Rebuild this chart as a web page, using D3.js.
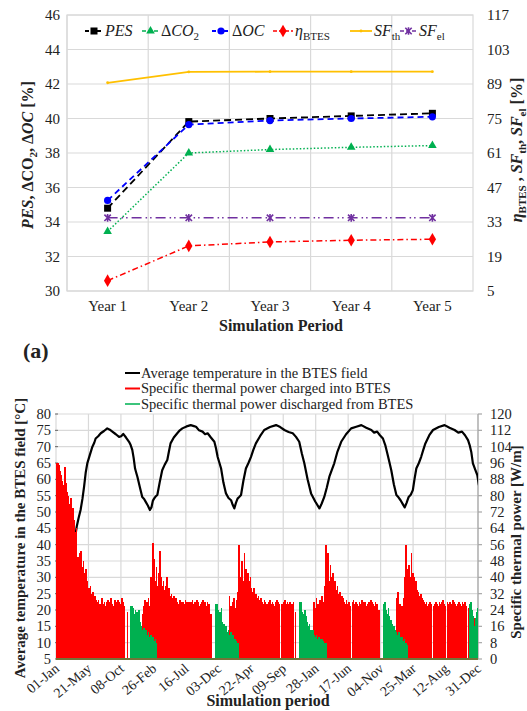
<!DOCTYPE html>
<html lang="en">
<head>
<meta charset="UTF-8">
<script src="https://cdn.jsdelivr.net/npm/d3@7"></script>
<title>BTES simulation</title>
<style>
  body { margin: 0; background: #fff; }
</style>
</head>
<body>
<script>
// ---------- panel (a): yearly indicators ----------
var years = ["Year 1", "Year 2", "Year 3", "Year 4", "Year 5"];
var pes   = [34.8, 39.82, 40.0, 40.15, 40.3];   // left axis [%]
var dCO2  = [33.45, 38.0, 38.2, 38.33, 38.43];   // left axis [%]
var dOC   = [35.25, 39.65, 39.88, 40.0, 40.1];   // left axis [%]
var etaBTES = [9.2, 23.3, 24.9, 25.6, 26.0];     // right axis [%]
var sfTh  = [89.5, 93.9, 94.0, 94.0, 94.0];      // right axis [%]
var sfEl  = [34.7, 34.7, 34.7, 34.7, 34.7];      // right axis [%]
var leftTicks  = [30, 32, 34, 36, 38, 40, 42, 44, 46];
var rightTicks = [5, 19, 33, 47, 61, 75, 89, 103, 117];

// ---------- panel (b): 5-year BTES simulation ----------
var dateLabels = ["01-Jan","21-May","08-Oct","26-Feb","16-Jul","03-Dec","22-Apr",
                  "09-Sep","28-Jan","17-Jun","04-Nov","25-Mar","12-Aug","31-Dec"];
var dateTickDays = [0,140,280,420,560,700,840,980,1120,1260,1400,1540,1680,1820];
var tempTicks  = [5,10,15,20,25,30,35,40,45,50,55,60,65,70,75,80];
var powerTicks = [0,8,16,24,32,40,48,56,64,72,80,88,96,104,112,120];

// average temperature in the BTES field [°C], [day, value]
var avgTemp = [[0,10],[10,12],[20,14],[35,20],[50,27],[65,34],[80,41],[89,45.4],[97,48],[106,50.6],
  [114,54],[121,57.7],[128,62],[135,64.9],[146,67.5],[157,70],[165,71.2],[171,72.5],[182,73.2],[193,74.1],
  [207,74.8],[221,75.6],[232,75.2],[243,74.6],[258,73.8],[272,73],[281,73.2],[290,73.9],[302,72.8],[315,71.5],
  [322,70.5],[329,69],[335,66.5],[341,63.3],[346,62],[351,60.8],[362,57.5],[372,54.6],[380,54],[387,53.1],
  [396,52],[405,50.6],[412,51.5],[418,53.5],[423,54.1],[430,54.8],[437,55.2],[447,59],[458,62.8],[469,64.5],
  [480,65.9],[487,68.5],[494,71],[508,72.8],[523,74.1],[534,75],[545,75.6],[563,76.2],[581,76.6],[595,76.3],
  [604,76.1],[617,75],[632,74.6],[643,73.8],[654,74.1],[668,72.8],[683,71.5],[690,69.5],[697,66.9],[705,65],
  [712,63.3],[722,59],[733,55.7],[744,54.3],[755,53.6],[762,52.2],[769,51.1],[776,52.8],[783,54.1],[790,54.6],
  [798,55.2],[808,59.5],[819,63.3],[830,65],[841,66.9],[851,69],[862,71],[880,73.2],[898,75.1],[923,76],
  [949,76.6],[967,76],[985,75.1],[1003,74.5],[1021,74.1],[1035,73],[1049,71.5],[1060,68],[1071,64.9],[1085,60],
  [1100,55.7],[1118,53.2],[1136,51.1],[1146,52.6],[1157,54.6],[1168,57.5],[1179,60.8],[1190,63],[1200,64.9],[1214,68.5],
  [1230,71.5],[1251,73.8],[1273,75.6],[1295,76.1],[1317,76.6],[1338,75.8],[1360,75.1],[1372,74.3],[1385,74.6],[1397,73.5],
  [1410,72.5],[1420,70.5],[1429,67.9],[1437,65.5],[1446,62.8],[1457,58.5],[1468,55.2],[1477,54.5],[1486,53.6],[1495,52.5],
  [1504,51.4],[1512,52.8],[1521,54.6],[1530,55.3],[1539,56.7],[1546,60],[1554,63.3],[1565,65],[1575,66.9],[1584,69],
  [1593,71],[1610,73.5],[1626,75.1],[1651,76],[1676,76.6],[1697,75.8],[1719,75.1],[1735,74.3],[1751,74.6],[1764,73.5],
  [1777,72],[1784,70.5],[1791,68.4],[1798,64.9],[1808,63],[1817,61.3],[1824,58.2]];

// specific thermal power [W/m], one value per 5-day bin, each season starts at the given day
var binDays = 5;
var chargeStart = [0, 370, 745, 1110, 1465];
var charge1 = [96,96,95,92,90,87,85,94,86,82,80,76,79,70,74,68,62,64,50,47,52,53,45,48,42,44,38,0,35,36,32,33,30,31,29,
  28,29,27,0,30,27,28,26,28,29,27,28,30,27,26,29,28,0,29,28,27,30,28,26,0,0,23];
var charge2 = [22,26,29,24,28,30,26,40,33,57,49,38,45,36,42,53,40,36,38,34,36,40,33,35,31,32,30,31,29,30,
  28,27,29,28,0,28,27,29,28,27,28,26,28,29,27,28,0,29,28,26,27,28,29,27,28,26,28,27,0,22];
var charge3 = [31,26,24,28,30,25,29,33,56,40,36,48,38,52,44,37,42,38,40,35,33,35,31,32,30,31,29,30,
  28,27,29,28,27,0,28,29,27,28,27,26,28,29,28,27,0,27,26,28,29,27,28,27,28,26,27,28,0,23];
var charge4 = [28,25,30,27,24,29,26,31,28,36,56,42,52,38,46,40,42,37,38,34,36,32,33,30,31,30,
  28,27,29,27,28,26,0,28,29,27,28,27,26,28,27,29,28,0,28,26,27,28,27,29,28,27,26,28,27,0,24];
var charge5 = [30,33,25,27,22,26,30,40,56,44,38,46,40,52,42,40,36,38,34,33,31,32,30,29,28,
  27,28,26,27,28,27,0,26,27,28,27,26,28,27,28,29,27,26,0,28,27,28,26,27,29,28,27,26,27,28,27,26,28,27,28,26,
  0,25,0,0,0,0,20];
var dischargeStart = [320, 685, 1050, 1410, 1780];
var discharge1 = [26,26,25,22,24,23,20,24,18,16,14,15,13,14,12,13,11,12,10,11,9,10,8];
var discharge2 = [27,27,24,22,23,25,18,17,15,16,13,14,12,13,11,12,10,10,9,8];
var discharge3 = [28,28,23,22,24,21,18,16,17,14,13,14,12,11,12,10,11,10,9,10,9,8,8];
var discharge4 = [27,28,24,22,25,21,19,17,15,16,14,13,12,13,11,10,11,9,10,8,7];
var discharge5 = [27,28,24,21,16,20,23,25,24];

var W = 527, H = 711;
var FONT = "'Liberation Serif', 'Times New Roman', 'DejaVu Serif', serif";
var svg = d3.select("body").append("svg").attr("width", W).attr("height", H)
  .attr("font-family", FONT).style("font-family", FONT).attr("fill", "#222");
var grid = "#d9d9d9";

// ================= panel (a) =================
var ax0 = 67, ax1 = 473, ay0 = 15, ay1 = 291;
var xA = d3.scaleBand().domain(years).range([ax0, ax1]);
var yL = d3.scaleLinear().domain([30, 46]).range([ay1, ay0]);
var yR = d3.scaleLinear().domain([5, 117]).range([ay1, ay0]);

var gA = svg.append("g");
gA.selectAll(".hg").data(leftTicks).enter().append("line")
  .attr("x1", ax0).attr("x2", ax1).attr("y1", yL).attr("y2", yL)
  .attr("stroke", grid).attr("stroke-width", 1.2);
gA.selectAll(".vg").data(years).enter().append("line")
  .attr("x1", function(d){ return xA(d); }).attr("x2", function(d){ return xA(d); })
  .attr("y1", ay0).attr("y2", ay1).attr("stroke", grid).attr("stroke-width", 1.2);
gA.append("rect").attr("x", ax0).attr("y", ay0).attr("width", ax1 - ax0).attr("height", ay1 - ay0)
  .attr("fill", "none").attr("stroke", grid).attr("stroke-width", 1.2);

gA.selectAll(".lt").data(leftTicks).enter().append("text")
  .attr("x", 60).attr("y", function(d){ return yL(d) + 5; })
  .attr("text-anchor", "end").attr("font-size", 15).text(function(d){ return d; });
gA.selectAll(".rt").data(rightTicks).enter().append("text")
  .attr("x", 487).attr("y", function(d){ return yR(d) + 5; })
  .attr("font-size", 15).text(function(d){ return d; });
gA.selectAll(".xt").data(years).enter().append("text")
  .attr("x", function(d){ return xA(d) + xA.bandwidth() / 2; }).attr("y", 311)
  .attr("text-anchor", "middle").attr("font-size", 15).text(function(d){ return d; });
gA.append("text").attr("x", 281).attr("y", 331).attr("text-anchor", "middle")
  .attr("font-size", 16).attr("font-weight", "bold").text("Simulation Period");

// axis titles
var lt = gA.append("text").attr("transform", "translate(33,155) rotate(-90)")
  .attr("text-anchor", "middle").attr("font-size", 16).attr("font-weight", "bold");
lt.append("tspan").attr("font-style", "italic").text("PES");
lt.append("tspan").text(", ΔCO");
lt.append("tspan").attr("font-size", 11).attr("dy", 4).text("2");
lt.append("tspan").attr("dy", -4).text(", Δ");
lt.append("tspan").attr("font-style", "italic").text("OC");
lt.append("tspan").text(" [%]");

var rt = gA.append("text").attr("transform", "translate(522,150) rotate(-90)")
  .attr("text-anchor", "middle").attr("font-size", 16).attr("font-weight", "bold");
rt.append("tspan").attr("font-style", "italic").text("η");
rt.append("tspan").attr("font-size", 11).attr("dy", 4).text("BTES");
rt.append("tspan").attr("dy", -4).text(" , ");
rt.append("tspan").attr("font-style", "italic").text("SF");
rt.append("tspan").attr("font-size", 11).attr("dy", 4).text("th");
rt.append("tspan").attr("dy", -4).text(", ");
rt.append("tspan").attr("font-style", "italic").text("SF");
rt.append("tspan").attr("font-size", 11).attr("dy", 4).text("el");
rt.append("tspan").attr("dy", -4).text(" [%]");

function starPath(s) {
  return "M" + (-s) + "," + (-s) + "L" + s + "," + s + "M" + (-s) + "," + s + "L" + s + "," + (-s) +
         "M0," + (-s * 1.2) + "L0," + (s * 1.2);
}
var series = [
  { vals: pes,     y: yL, color: "#000000", dash: "7,4",        w: 1.8, mark: "square" },
  { vals: dCO2,    y: yL, color: "#00b050", dash: "1.5,2",      w: 1.5, mark: "triangle" },
  { vals: dOC,     y: yL, color: "#0000ff", dash: "6,4",        w: 1.8, mark: "circle" },
  { vals: etaBTES, y: yR, color: "#ff0000", dash: "6,3,1.5,3",  w: 1.5, mark: "diamond" },
  { vals: sfTh,    y: yR, color: "#ffc000", dash: null,         w: 1.8, mark: "dot" },
  { vals: sfEl,    y: yR, color: "#7030a0", dash: "10,4,1.5,3,1.5,4", w: 1.5, mark: "star" }
];
function drawMarker(g, m, color, x, y) {
  if (m === "square") g.append("rect").attr("x", x - 3.5).attr("y", y - 3.5).attr("width", 7).attr("height", 7).attr("fill", color);
  else if (m === "triangle") g.append("path").attr("d", d3.symbol(d3.symbolTriangle, 32)()).attr("transform", "translate(" + x + "," + y + ")").attr("fill", color);
  else if (m === "circle") g.append("circle").attr("cx", x).attr("cy", y).attr("r", 3.6).attr("fill", color);
  else if (m === "diamond") g.append("path").attr("d", d3.symbol(d3.symbolDiamond, 46)()).attr("transform", "translate(" + x + "," + y + ")").attr("fill", color);
  else if (m === "dot") g.append("circle").attr("cx", x).attr("cy", y).attr("r", 1.4).attr("fill", color);
  else if (m === "star") g.append("path").attr("d", starPath(3.2)).attr("transform", "translate(" + x + "," + y + ")").attr("stroke", color).attr("stroke-width", 1.6).attr("fill", "none");
}
series.forEach(function(s) {
  var line = d3.line().x(function(d, i){ return xA(years[i]) + xA.bandwidth() / 2; }).y(function(d){ return s.y(d); });
  gA.append("path").datum(s.vals).attr("d", line).attr("fill", "none")
    .attr("stroke", s.color).attr("stroke-width", s.w).attr("stroke-dasharray", s.dash);
  s.vals.forEach(function(v, i) { drawMarker(gA, s.mark, s.color, xA(years[i]) + xA.bandwidth() / 2, s.y(v)); });
});

// legend (a)
var legA = [
  { s: 0, x: 85,  lw: 18, parts: [["PES", "i"]] },
  { s: 1, x: 142, lw: 17, parts: [["Δ", ""], ["CO", "i"], ["2", "sub"]] },
  { s: 2, x: 212, lw: 18, parts: [["Δ", ""], ["OC", "i"]] },
  { s: 3, x: 273, lw: 20, parts: [["η", "i"], ["BTES", "sub"]] },
  { s: 4, x: 350, lw: 22, parts: [["SF", "i"], ["th", "sub"]] },
  { s: 5, x: 400, lw: 17, parts: [["SF", "i"], ["el", "sub"]] }
];
legA.forEach(function(l) {
  var s = series[l.s], ly = 31;
  gA.append("line").attr("x1", l.x).attr("x2", l.x + l.lw).attr("y1", ly).attr("y2", ly)
    .attr("stroke", s.color).attr("stroke-width", s.w).attr("stroke-dasharray", s.dash ? "4,2" : null);
  drawMarker(gA, s.mark, s.color, l.x + l.lw / 2, ly);
  var t = gA.append("text").attr("x", l.x + l.lw + 2).attr("y", ly + 5).attr("font-size", 16);
  l.parts.forEach(function(p) {
    var ts = t.append("tspan").text(p[0]);
    if (p[1] === "i") ts.attr("font-style", "italic");
    if (p[1] === "sub") ts.attr("font-size", 11).attr("dy", 4);
  });
});

// (a) label
svg.append("text").attr("x", 23).attr("y", 358).attr("font-size", 22).attr("font-weight", "bold").text("(a)");

// ================= panel (b) =================
var bx0 = 56, bx1 = 478, by0 = 414, by1 = 659;
var xB = d3.scaleLinear().domain([0, 1820]).range([bx0, bx1]);
var yT = d3.scaleLinear().domain([5, 80]).range([by1, by0]);
var yP = d3.scaleLinear().domain([0, 120]).range([by1, by0]);

svg.append("clipPath").attr("id", "clipB").append("rect")
  .attr("x", bx0).attr("y", by0 - 3).attr("width", bx1 - bx0).attr("height", by1 - by0 + 3);

var gB = svg.append("g");
gB.selectAll(".hg").data(tempTicks).enter().append("line")
  .attr("x1", bx0).attr("x2", bx1).attr("y1", yT).attr("y2", yT)
  .attr("stroke", grid).attr("stroke-width", 1.2);
gB.selectAll(".vg").data(dateTickDays).enter().append("line")
  .attr("x1", xB).attr("x2", xB).attr("y1", by0).attr("y2", by1)
  .attr("stroke", grid).attr("stroke-width", 1.2);
// left ticks
gB.selectAll(".ltk").data(tempTicks).enter().append("line")
  .attr("x1", bx0 - 1).attr("x2", bx0 + 2).attr("y1", yT).attr("y2", yT)
  .attr("stroke", "#666").attr("stroke-width", 1);
gB.selectAll(".lt").data(tempTicks).enter().append("text")
  .attr("x", 51).attr("y", function(d){ return yT(d) + 5; })
  .attr("text-anchor", "end").attr("font-size", 14.5).text(function(d){ return d; });
// right axis
gB.append("line").attr("x1", bx1).attr("x2", bx1).attr("y1", by0).attr("y2", by1)
  .attr("stroke", "#a6a6a6").attr("stroke-width", 1.2);
gB.selectAll(".rtk").data(powerTicks).enter().append("line")
  .attr("x1", bx1).attr("x2", bx1 + 4).attr("y1", yP).attr("y2", yP)
  .attr("stroke", "#a6a6a6").attr("stroke-width", 1.2);
gB.selectAll(".rt").data(powerTicks).enter().append("text")
  .attr("x", 490).attr("y", function(d){ return yP(d) + 5; })
  .attr("font-size", 14.5).text(function(d){ return d; });
// x labels
gB.selectAll(".xt").data(dateTickDays).enter().append("text")
  .attr("transform", function(d){ return "translate(" + (xB(d) + 4) + ",670) rotate(-40)"; })
  .attr("text-anchor", "end").attr("font-size", 14)
  .text(function(d, i){ return dateLabels[i]; });

var plotB = gB.append("g").attr("clip-path", "url(#clipB)");
// temperature line
plotB.append("path").datum(avgTemp)
  .attr("d", d3.line().x(function(d){ return xB(d[0]); }).y(function(d){ return yT(d[1]); }))
  .attr("fill", "none").attr("stroke", "#000").attr("stroke-width", 2.2).attr("stroke-linejoin", "round");

var bw = xB(binDays) - xB(0) + 0.5;
function drawBars(starts, seasons, color) {
  seasons.forEach(function(vals, k) {
    plotB.append("g").attr("shape-rendering", "crispEdges")
      .selectAll("rect").data(vals).enter().append("rect")
      .attr("x", function(d, i){ return xB(starts[k] + i * binDays); })
      .attr("width", bw)
      .attr("y", function(d){ return yP(d); })
      .attr("height", function(d){ return yP(0) - yP(d); })
      .attr("fill", color);
  });
}
drawBars(chargeStart, [charge1, charge2, charge3, charge4, charge5], "#ff0000");
drawBars(dischargeStart, [discharge1, discharge2, discharge3, discharge4, discharge5], "#00b050");
// zero baseline
gB.append("line").attr("x1", bx0).attr("x2", bx1).attr("y1", yP(0)).attr("y2", yP(0))
  .attr("stroke", "#737338").attr("stroke-width", 2);

// titles
gB.append("text").attr("transform", "translate(25,538) rotate(-90)").attr("text-anchor", "middle")
  .attr("font-size", 15).attr("font-weight", "bold").text("Average temperature in the BTES field [°C]");
gB.append("text").attr("transform", "translate(521,542) rotate(-90)").attr("text-anchor", "middle")
  .attr("font-size", 15).attr("font-weight", "bold").text("Specific thermal power [W/m]");
gB.append("text").attr("x", 268).attr("y", 706).attr("text-anchor", "middle")
  .attr("font-size", 16).attr("font-weight", "bold").text("Simulation period");

// legend (b)
var legB = [
  ["Average temperature in the BTES field", "#000000"],
  ["Specific thermal power charged into BTES", "#ff0000"],
  ["Specific thermal power discharged from BTES", "#3cc47c"]
];
legB.forEach(function(l, i) {
  var ly = 373 + i * 15.5;
  gB.append("line").attr("x1", 125).attr("x2", 140).attr("y1", ly).attr("y2", ly)
    .attr("stroke", l[1]).attr("stroke-width", 2);
  gB.append("text").attr("x", 141).attr("y", ly + 4.5).attr("font-size", 14.5).text(l[0]);
});
</script>
</body>
</html>
